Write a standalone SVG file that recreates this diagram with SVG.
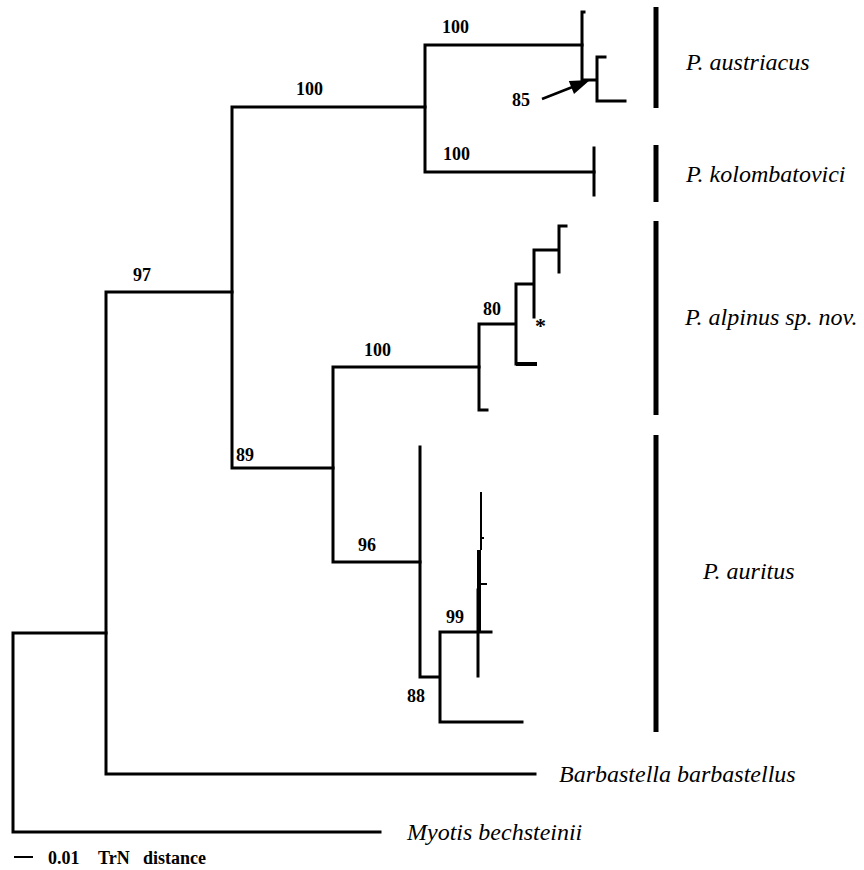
<svg xmlns="http://www.w3.org/2000/svg" width="864" height="870" viewBox="0 0 864 870">
<style>
.br{stroke:#000;stroke-width:3;fill:none;stroke-linecap:square}
.thin{stroke:#000;stroke-width:2;fill:none}
.bar{stroke:#000;stroke-width:5}
.bs{font-family:"Liberation Serif","Times New Roman",serif;font-weight:bold;font-size:18px;fill:#000}
.tx{font-family:"Liberation Serif","Times New Roman",serif;font-style:italic;font-size:24px;fill:#000}
.sc{font-family:"Liberation Serif","Times New Roman",serif;font-weight:bold;font-size:18px;fill:#000}
</style>
<rect width="864" height="870" fill="#fff"/>
<g id="connectors">
<path class="br" d="M13,633 V832 M13,633 H106 M13,832 H380"/>
<path class="br" d="M106,292 V774 M106,774 H535 M106,292 H232"/>
<path class="br" d="M232,107 V468 M232,107 H425 M232,468 H333"/>
<path class="br" d="M425,45 V172 M425,45 H582 M425,172 H594"/>
<path class="br" d="M594,148 V195"/>
<path class="br" d="M582,12 V80 M582,12 H584 M582,80 H597 M597,57 V101 M597,57 H605 M597,101 H625"/>
<path class="br" d="M333,367 V562 M333,367 H479 M333,562 H420"/>
<path class="br" d="M479,324 V410 M479,410 H487 M479,324 H516 M516,284 V364 M516,284 H534 M534,250 V317 M534,250 H559 M559,226 V272 M559,226 H566"/>
<path stroke="#000" stroke-width="4" d="M516,364 H537"/>
<path class="br" d="M420,447 V677 M420,677 H440 M440,632 V722 M440,722 H522 M440,632 H491"/>
<path class="br" d="M478,590 V676"/>
<path stroke="#000" stroke-width="4" d="M479,550 V632"/>
<path class="thin" d="M481,492 V550 M481,538 H484 M481,584 H487"/>
<path stroke="#000" stroke-width="2.5" d="M542,99 L575,86"/>
<polygon points="590,80 568.8,80.9 574,93.9" fill="#000"/>
</g>
<g id="bars">
<line class="bar" x1="656" y1="7" x2="656" y2="108"/>
<line class="bar" x1="656" y1="145" x2="656" y2="202"/>
<line class="bar" x1="656" y1="221" x2="656" y2="415"/>
<line class="bar" x1="656" y1="435" x2="656" y2="732"/>
</g>
<g id="support">
<text class="bs" x="133" y="281">97</text>
<text class="bs" x="296" y="95">100</text>
<text class="bs" x="442" y="33">100</text>
<text class="bs" x="443" y="160">100</text>
<text class="bs" x="512" y="106">85</text>
<text class="bs" x="364" y="356">100</text>
<text class="bs" x="236" y="461">89</text>
<text class="bs" x="358" y="551">96</text>
<text class="bs" x="483" y="315">80</text>
<text class="bs" x="446" y="623">99</text>
<text class="bs" x="407" y="702">88</text>
<text class="bs" x="535" y="333" style="font-size:22px">*</text>
</g>
<g id="node-austriacus"><text class="tx" x="686" y="70">P. austriacus</text></g>
<g id="node-kolombatovici"><text class="tx" x="686" y="182">P. kolombatovici</text></g>
<g id="node-alpinus"><text class="tx" x="685" y="325">P. alpinus sp. nov.</text></g>
<g id="node-auritus"><text class="tx" x="703" y="579">P. auritus</text></g>
<g id="node-barbastella"><text class="tx" x="559" y="782">Barbastella barbastellus</text></g>
<g id="node-myotis"><text class="tx" x="407" y="840">Myotis bechsteinii</text></g>
<g id="scale">
<line stroke="#000" stroke-width="2" x1="14" y1="857" x2="33" y2="857"/>
<text class="sc" x="48" y="864">0.01</text>
<text class="sc" x="98" y="864">TrN</text>
<text class="sc" x="143" y="864">distance</text>
</g>
</svg>
